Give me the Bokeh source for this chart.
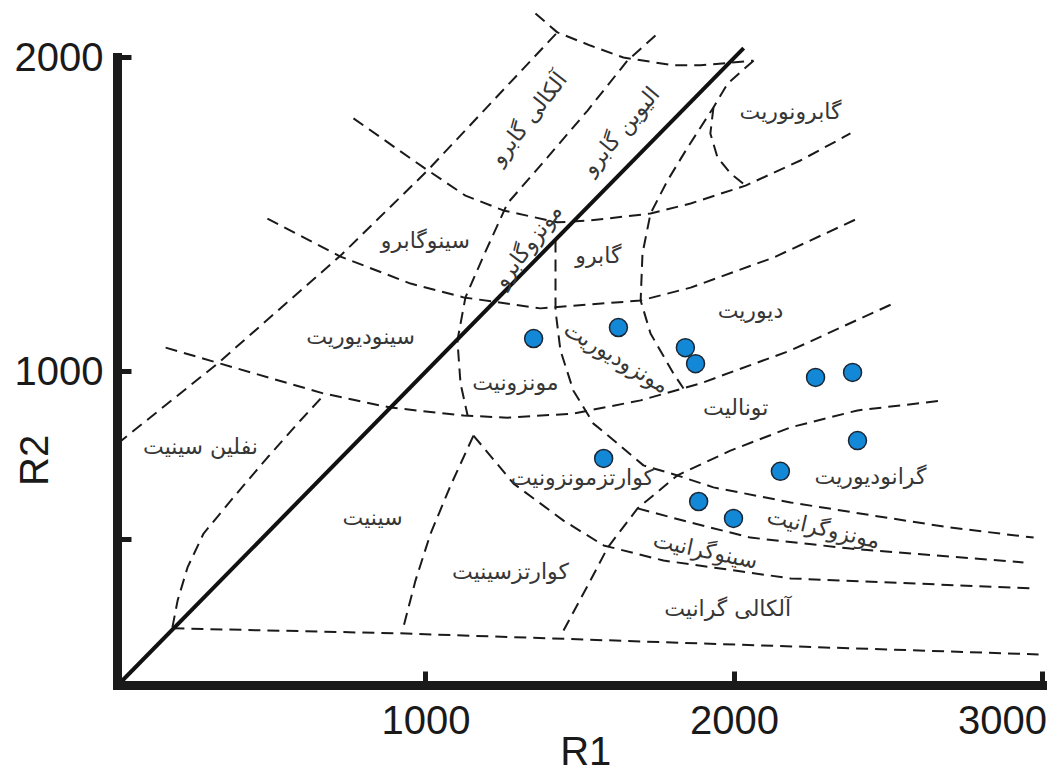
import math
from bokeh.plotting import figure
from bokeh.models import Range1d, FixedTicker, ColumnDataSource
from bokeh.core.properties import value
from bokeh.embed import file_html
from bokeh.resources import INLINE

# ---------------- data (R1, R2 millications) ----------------
# solid R1 = R2 line
diag_r1 = [0, 2030]
diag_r2 = [0, 2030]

# dashed field boundaries
top_r1 = [1355, 1426, 1533, 1640, 1802, 1890, 2062]
top_r2 = [2140, 2080, 2038, 2000, 1975, 1975, 1990]

alkgab_r1 = [0, 324, 723, 1005, 1426]
alkgab_r2 = [770, 1025, 1369, 1640, 2080]

olgab_r1 = [1744, 1653, 1524, 1394, 1264, 1187, 1128, 1102, 1112, 1135]
olgab_r2 = [2070, 1990, 1831, 1682, 1535, 1369, 1236, 1099, 962, 860]

gabbro_r1 = [2062, 1978, 1932, 1848, 1783, 1728, 1702, 1696, 1728, 1802, 1835]
gabbro_r2 = [1990, 1917, 1841, 1713, 1608, 1503, 1376, 1226, 1121, 994, 946]

norite_r1 = [1932, 1922, 1945, 1987, 2036]
norite_r2 = [1841, 1758, 1682, 1631, 1592]

upper_r1 = [765, 992, 1128, 1251, 1426, 1533, 1728, 1858, 2036, 2214, 2376]
upper_r2 = [1806, 1650, 1560, 1513, 1475, 1481, 1503, 1535, 1592, 1672, 1758]

mid_r1 = [486, 723, 950, 1122, 1371, 1696, 1858, 2127, 2399]
mid_r2 = [1487, 1366, 1280, 1236, 1201, 1226, 1267, 1363, 1487]

low_r1 = [156, 334, 668, 885, 1122, 1264, 1478, 1696, 1890, 2182, 2516]
low_r2 = [1076, 1025, 930, 885, 860, 853, 866, 908, 962, 1067, 1217]

monzo_r1 = [1420, 1420, 1436, 1478, 1543, 1621, 1705, 1815, 1932, 2182, 2451, 2700, 2970]
monzo_r2 = [1417, 1194, 1067, 939, 834, 771, 701, 669, 631, 583, 541, 503, 471]

tonal_r1 = [1446, 1533, 1589, 1686, 1815, 1987, 2182, 2399, 2678]
tonal_r2 = [175, 334, 439, 564, 669, 748, 822, 876, 908]

syeno_r1 = [1686, 1858, 2052, 2376, 2937]
syeno_r2 = [564, 519, 471, 436, 392]

alkgr_r1 = [1154, 1284, 1446, 1576, 1770, 2182, 2970]
alkgr_r2 = [796, 643, 525, 446, 398, 341, 309]

qsy_r1 = [1154, 1080, 1015, 966, 924]
qsy_r2 = [796, 637, 484, 334, 175]

neph_r1 = [178, 195, 227, 279, 376, 486, 593, 674]
neph_r2 = [185, 271, 376, 484, 599, 726, 844, 930]

base_r1 = [178, 917, 1890, 2986]
base_r2 = [182, 166, 134, 99]

# samples
sample_r1 = [1349, 1624, 1841, 1874, 2263, 2383, 2399, 2149, 1884, 1997, 1576]
sample_r2 = [1105, 1140, 1076, 1025, 981, 997, 780, 682, 586, 532, 723]

# field names
field_names = ["گابرونوریت", "آلکالی گابرو", "الیوین گابرو", "سینوگابرو", "مونزوگابرو",
               "گابرو", "سینودیوریت", "دیوریت", "مونزودیوریت", "مونزونیت", "تونالیت",
               "نفلین سینیت", "گرانودیوریت", "کوارتزمونزونیت", "سینیت", "مونزوگرانیت",
               "سینوگرانیت", "کوارتزسینیت", "آلکالی گرانیت"]
field_r1 = [2182, 1332, 1631, 998, 1329, 1559, 788, 2052, 1618, 1290, 2004,
            269, 2441, 1507, 827, 2289, 1906, 1274, 1978]
field_r2 = [1828, 1806, 1767, 1417, 1401, 1369, 1111, 1194, 1045, 965, 885,
            761, 666, 662, 535, 500, 430, 363, 245]
field_angle_deg = [0, 52, 50, 0, 53, 0, 0, 0, -31, 0, 0,
                   0, 0, 0, 0, -13, -12, 0, 0]

x_ticks = [1000, 2000, 3000]
y_ticks = [1000, 2000]
y_minor_ticks = [465]
x_title = "R1"
y_title = "R2"
y_title_pos = 717      # R2 value at which the "R2" title is centred
x_title_pos = 1518     # R1 value at which the "R1" title is centred

# ---------------- figure ----------------
# the frame fills the whole canvas; the axes sit at R1 = 0 and R2 = 0
p = figure(width=1055, height=778, output_backend="svg", toolbar_location=None,
           x_range=Range1d(-379.3, 3040.9), y_range=Range1d(-296.2, 2181.5),
           min_border_left=0, min_border_right=0, min_border_top=0, min_border_bottom=0)
p.outline_line_color = None
p.grid.visible = False
p.background_fill_color = "white"
p.border_fill_color = "white"

dash = dict(line_color="#1a1a1a", line_width=2, line_dash="12 7")
for xs, ys in [(top_r1, top_r2), (alkgab_r1, alkgab_r2), (olgab_r1, olgab_r2),
               (gabbro_r1, gabbro_r2), (norite_r1, norite_r2), (upper_r1, upper_r2),
               (mid_r1, mid_r2), (low_r1, low_r2), (monzo_r1, monzo_r2),
               (tonal_r1, tonal_r2), (syeno_r1, syeno_r2), (alkgr_r1, alkgr_r2),
               (qsy_r1, qsy_r2), (neph_r1, neph_r2), (base_r1, base_r2)]:
    p.line(xs, ys, **dash)

p.line(diag_r1, diag_r2, line_color="#111111", line_width=4)

p.scatter(sample_r1, sample_r2, size=18, fill_color="#1388d6", line_color="#1b2633", line_width=1.5)

src = ColumnDataSource(dict(x=field_r1, y=field_r2, text=field_names,
                            angle=[math.radians(a) for a in field_angle_deg]))
p.text(x="x", y="y", text="text", angle="angle", source=src,
       text_font=value("DejaVu Sans"), text_font_size=value("22px"),
       text_color="#363636", text_align="center", text_baseline="middle")

# axes, pinned at the origin
xa = p.xaxis[0]
ya = p.yaxis[0]
xa.fixed_location = 0
ya.fixed_location = 0
for ax in (xa, ya):
    ax.axis_line_width = 9
    ax.axis_line_color = "#1a1a1a"
    ax.axis_line_cap = "square"
    ax.major_tick_in = 14
    ax.major_tick_out = 0
    ax.major_tick_line_width = 5
    ax.major_tick_line_color = "#1a1a1a"
    ax.minor_tick_in = 14
    ax.minor_tick_out = 0
    ax.minor_tick_line_width = 5
    ax.minor_tick_line_color = "#1a1a1a"
    ax.major_label_standoff = 0
    ax.major_label_text_font_size = "0px"

xa.ticker = FixedTicker(ticks=x_ticks)
xa.bounds = (0, 3000)
xa.major_label_overrides = {t: "" for t in x_ticks}
ya.ticker = FixedTicker(ticks=y_ticks, minor_ticks=y_minor_ticks)
ya.bounds = (0, 2000)
ya.major_label_overrides = {t: "" for t in y_ticks}

# tick labels and axis titles
lab = dict(text_font=value("Liberation Sans"), text_font_size=value("40px"), text_color="#1a1a1a")
p.text(x=x_ticks[:2], y=[0] * 2, text=[str(t) for t in x_ticks[:2]], y_offset=35,
       text_align="center", text_baseline="alphabetic", **lab)
p.text(x=x_ticks[2:], y=[0], text=[str(x_ticks[2])], x_offset=4, y_offset=35,
       text_align="right", text_baseline="alphabetic", **lab)
p.text(x=[0] * len(y_ticks), y=y_ticks, text=[str(t) for t in y_ticks], x_offset=-14,
       text_align="right", text_baseline="middle", **lab)
p.text(x=[x_title_pos], y=[0], text=[x_title], y_offset=66,
       text_align="center", text_baseline="alphabetic", **lab)
p.text(x=[0], y=[y_title_pos], text=[y_title], x_offset=-83, angle=math.pi / 2,
       text_align="center", text_baseline="middle", **lab)

open("out.html", "w").write(file_html(p, INLINE))
